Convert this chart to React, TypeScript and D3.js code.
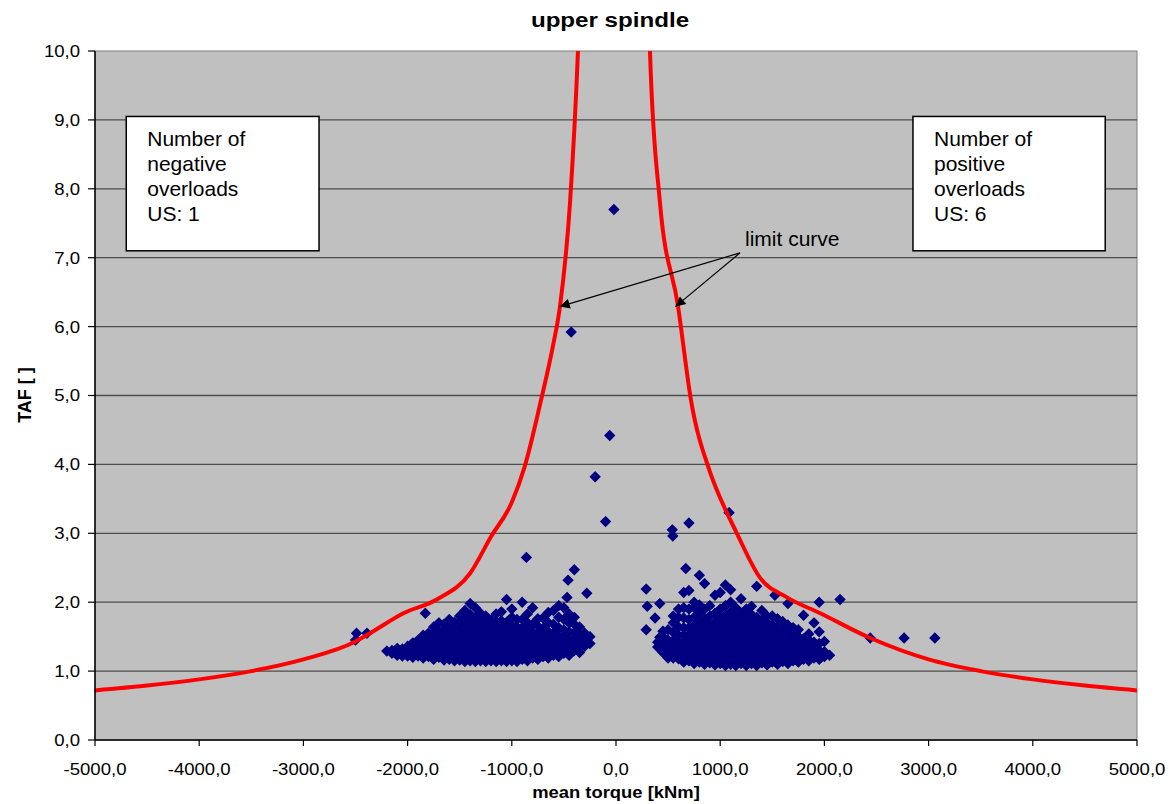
import * as d3 from 'd3';
import React from 'react';

// axis ticks
const xTicks = [-5000, -4000, -3000, -2000, -1000, 0, 1000, 2000, 3000, 4000, 5000];
const yTicks = [0, 1, 2, 3, 4, 5, 6, 7, 8, 9, 10];

// limit curve (mean torque kNm, TAF)
const limitLeft: [number, number][] = [
  [-5000, 0.72], [-4500, 0.79], [-4000, 0.88], [-3500, 1.0], [-3000, 1.17],
  [-2500, 1.43], [-2360, 1.55], [-2040, 1.84], [-1720, 2.04], [-1400, 2.42],
  [-1200, 2.95], [-1000, 3.45], [-880, 3.95], [-720, 4.93], [-605, 5.72],
  [-537, 6.3], [-440, 7.83], [-365, 10.0], [-345, 10.8],
];
const limitRight: [number, number][] = [
  [310, 10.8], [326, 10.0], [420, 7.83], [595, 6.3], [720, 4.93],
  [900, 3.9], [970, 3.62], [1160, 3.0], [1380, 2.36], [1640, 2.07],
  [1960, 1.84], [2440, 1.48], [3000, 1.17], [3500, 1.0], [4000, 0.88],
  [4500, 0.79], [5000, 0.72],
];

// measured points, grouped by torque column: [torque, TAF values]
const negCluster: [number, number[]][] = [
  [-2200, [1.29]],
  [-2150, [1.26, 1.3]],
  [-2100, [1.23, 1.28, 1.33]],
  [-2050, [1.22, 1.27, 1.32]],
  [-2000, [1.22, 1.29, 1.36, 1.26]],
  [-1950, [1.2, 1.25, 1.33, 1.41]],
  [-1900, [1.22, 1.28, 1.35, 1.45, 1.3]],
  [-1850, [1.19, 1.24, 1.3, 1.37, 1.44, 1.52]],
  [-1800, [1.21, 1.26, 1.32, 1.38, 1.46, 1.55]],
  [-1750, [1.17, 1.22, 1.28, 1.34, 1.41, 1.48, 1.56, 1.64]],
  [-1700, [1.2, 1.24, 1.3, 1.36, 1.42, 1.5, 1.58, 1.7]],
  [-1650, [1.16, 1.2, 1.26, 1.32, 1.38, 1.45, 1.52, 1.6, 1.68]],
  [-1600, [1.17, 1.22, 1.28, 1.34, 1.4, 1.47, 1.55, 1.66, 1.75]],
  [-1550, [1.15, 1.19, 1.25, 1.31, 1.37, 1.44, 1.51, 1.62, 1.71]],
  [-1500, [1.16, 1.21, 1.27, 1.33, 1.39, 1.46, 1.53, 1.62, 1.72, 1.8]],
  [-1450, [1.14, 1.18, 1.24, 1.3, 1.36, 1.43, 1.5, 1.58, 1.68, 1.78, 1.88]],
  [-1400, [1.15, 1.2, 1.26, 1.32, 1.38, 1.45, 1.52, 1.6, 1.7, 1.82, 1.98]],
  [-1350, [1.14, 1.18, 1.23, 1.29, 1.36, 1.43, 1.5, 1.58, 1.67, 1.78, 1.92]],
  [-1300, [1.15, 1.2, 1.26, 1.33, 1.39, 1.46, 1.54, 1.62, 1.72, 1.84]],
  [-1250, [1.14, 1.18, 1.23, 1.3, 1.37, 1.44, 1.51, 1.6, 1.7, 1.8]],
  [-1200, [1.15, 1.21, 1.27, 1.33, 1.4, 1.47, 1.55, 1.64, 1.74]],
  [-1150, [1.14, 1.18, 1.24, 1.3, 1.37, 1.44, 1.52, 1.61, 1.71, 1.83]],
  [-1100, [1.15, 1.2, 1.26, 1.32, 1.39, 1.46, 1.54, 1.63, 1.73, 1.86]],
  [-1050, [1.14, 1.18, 1.24, 1.3, 1.37, 1.44, 1.52, 1.61, 1.71, 2.04]],
  [-1000, [1.15, 1.21, 1.27, 1.33, 1.4, 1.48, 1.56, 1.66, 1.78, 1.9]],
  [-950, [1.14, 1.18, 1.24, 1.31, 1.38, 1.46, 1.55, 1.64, 1.75]],
  [-900, [1.17, 1.23, 1.3, 1.37, 1.45, 1.53, 1.63, 1.75, 2.0]],
  [-850, [1.15, 1.2, 1.27, 1.34, 1.42, 1.5, 1.6, 1.7, 1.83]],
  [-800, [1.19, 1.25, 1.32, 1.39, 1.47, 1.56, 1.68, 1.92]],
  [-750, [1.17, 1.22, 1.29, 1.36, 1.44, 1.54, 1.65, 1.76]],
  [-700, [1.21, 1.27, 1.34, 1.42, 1.51, 1.62, 1.77]],
  [-650, [1.19, 1.24, 1.31, 1.38, 1.47, 1.57, 1.7, 1.85]],
  [-600, [1.23, 1.3, 1.37, 1.45, 1.55, 1.68, 1.88]],
  [-550, [1.21, 1.27, 1.34, 1.41, 1.51, 1.63, 1.78, 1.95]],
  [-500, [1.26, 1.33, 1.4, 1.49, 1.6, 1.75, 1.92]],
  [-450, [1.23, 1.3, 1.38, 1.47, 1.57, 1.7, 1.83]],
  [-400, [1.3, 1.37, 1.46, 1.56, 1.68, 1.78]],
  [-350, [1.27, 1.35, 1.43, 1.53, 1.64]],
  [-300, [1.36, 1.45, 1.55]],
  [-250, [1.4, 1.5]],
];
const posCluster: [number, number[]][] = [
  [400, [1.35, 1.42]],
  [450, [1.27, 1.34, 1.42, 1.5, 1.58]],
  [500, [1.19, 1.28, 1.36, 1.45, 1.6]],
  [550, [1.19, 1.26, 1.34, 1.44, 1.56, 1.7, 1.8]],
  [600, [1.18, 1.25, 1.33, 1.42, 1.52, 1.64, 1.78, 1.9]],
  [650, [1.13, 1.19, 1.26, 1.34, 1.42, 1.52, 1.63, 1.77, 1.92, 2.14]],
  [700, [1.15, 1.21, 1.28, 1.36, 1.44, 1.53, 1.63, 1.75, 1.9, 2.17]],
  [750, [1.11, 1.17, 1.23, 1.3, 1.38, 1.46, 1.55, 1.66, 1.78, 1.92, 2.0]],
  [800, [1.13, 1.19, 1.26, 1.33, 1.41, 1.5, 1.6, 1.71, 1.84, 1.96, 2.39]],
  [850, [1.1, 1.15, 1.21, 1.28, 1.36, 1.44, 1.54, 1.64, 1.76, 1.9, 2.27]],
  [900, [1.12, 1.18, 1.24, 1.31, 1.39, 1.47, 1.57, 1.68, 1.8, 1.95]],
  [950, [1.09, 1.14, 1.2, 1.27, 1.34, 1.42, 1.5, 1.6, 1.71, 1.84, 2.1]],
  [1000, [1.11, 1.17, 1.23, 1.3, 1.38, 1.46, 1.55, 1.65, 1.77, 1.9, 2.14]],
  [1050, [1.08, 1.13, 1.19, 1.26, 1.33, 1.41, 1.49, 1.59, 1.69, 1.81, 1.95, 2.25]],
  [1100, [1.1, 1.16, 1.22, 1.29, 1.36, 1.44, 1.53, 1.63, 1.74, 1.86, 2.0, 2.18]],
  [1150, [1.08, 1.13, 1.19, 1.25, 1.32, 1.4, 1.48, 1.57, 1.67, 1.79, 1.92]],
  [1200, [1.11, 1.17, 1.23, 1.3, 1.37, 1.45, 1.53, 1.62, 1.72, 1.84, 2.05]],
  [1250, [1.08, 1.13, 1.19, 1.25, 1.32, 1.4, 1.48, 1.56, 1.66, 1.77, 1.9]],
  [1300, [1.11, 1.17, 1.23, 1.3, 1.37, 1.44, 1.52, 1.61, 1.71, 1.82, 1.94]],
  [1350, [1.08, 1.14, 1.2, 1.26, 1.33, 1.41, 1.49, 1.57, 1.67, 1.78, 2.23]],
  [1400, [1.12, 1.18, 1.24, 1.31, 1.38, 1.46, 1.54, 1.63, 1.73, 1.88]],
  [1450, [1.09, 1.15, 1.21, 1.28, 1.35, 1.43, 1.51, 1.6, 1.7, 1.8]],
  [1500, [1.13, 1.19, 1.25, 1.32, 1.4, 1.48, 1.57, 1.67, 1.8]],
  [1550, [1.1, 1.16, 1.22, 1.29, 1.37, 1.45, 1.54, 1.64, 1.76]],
  [1600, [1.14, 1.2, 1.27, 1.34, 1.42, 1.5, 1.6, 1.72]],
  [1650, [1.11, 1.17, 1.23, 1.31, 1.39, 1.48, 1.57, 1.67, 1.98]],
  [1700, [1.15, 1.21, 1.28, 1.36, 1.44, 1.53, 1.63]],
  [1750, [1.13, 1.19, 1.25, 1.33, 1.41, 1.5, 1.6]],
  [1800, [1.17, 1.23, 1.3, 1.38, 1.47, 1.81]],
  [1850, [1.15, 1.21, 1.28, 1.36, 1.45, 1.54]],
  [1900, [1.19, 1.25, 1.33, 1.42, 1.7]],
  [1950, [1.17, 1.23, 1.3, 1.4, 1.57, 2.0]],
  [2000, [1.21, 1.28, 1.43]],
  [2050, [1.23]],
];
const negOutliers: [number, number][] = [
  [-20, 7.7], [-430, 5.92], [-60, 4.42], [-200, 3.82], [-100, 3.17],
  [-860, 2.65], [-400, 2.47], [-460, 2.32], [-280, 2.13], [-470, 2.07],
  [-2490, 1.55], [-2500, 1.45], [-2390, 1.55], [-1830, 1.84],
];
const posOutliers: [number, number][] = [
  [540, 3.05], [545, 2.96], [700, 3.15], [1085, 3.3], [670, 2.49],
  [290, 2.19], [420, 1.98], [300, 1.94], [375, 1.77], [290, 1.6], [420, 1.49],
  [1525, 2.1], [2150, 2.04], [2440, 1.48], [2765, 1.48], [3060, 1.48],
];

const boxes = [
  { x0: -4700, x1: -2850, lines: ['Number of', 'negative', 'overloads', 'US: 1'] },
  { x0: 2850, x1: 4695, lines: ['Number of', 'positive', 'overloads', 'US: 6'] },
];

const W = 1170;
const H = 804;
const margin = { top: 51, right: 33, bottom: 64, left: 95 };
const font = "'Liberation Sans', Arial, sans-serif";

const fmt = (v: number) => d3.format('.1f')(v).replace('.', ',').replace('−', '-');

export default function App() {
  const x = d3.scaleLinear().domain([-5000, 5000]).range([margin.left, W - margin.right]);
  const y = d3.scaleLinear().domain([0, 10]).range([H - margin.bottom, margin.top]);

  const points: [number, number][] = [
    ...negCluster.flatMap(([t, vs]) => vs.map((v) => [t, v] as [number, number])),
    ...posCluster.flatMap(([t, vs]) => vs.map((v) => [t, v] as [number, number])),
    ...negOutliers,
    ...posOutliers,
  ];

  const diamond = d3.symbol().type(d3.symbolDiamond2).size(60)() as string;
  const line = d3
    .line<[number, number]>()
    .x((d) => x(d[0]))
    .y((d) => y(d[1]))
    .curve(d3.curveMonotoneX);

  const [x0, x1] = x.range();
  const [yb, yt] = y.range();

  // annotation arrows
  const arrowFrom: [number, number] = [1190, 7.07];
  const arrowTo: [number, number][] = [[-540, 6.29], [570, 6.29]];

  return (
    <svg width={W} height={H} style={{ position: 'absolute', left: 0, top: 0, background: '#fff' }} fontFamily={font}>
      <defs>
        <clipPath id="plot">
          <rect x={x0} y={yt} width={x1 - x0} height={yb - yt} />
        </clipPath>
        <marker id="arrow" viewBox="0 0 10 10" refX="10" refY="5" markerWidth="12" markerHeight="10" markerUnits="userSpaceOnUse" orient="auto">
          <path d="M0,0 L10,5 L0,10 z" fill="#000" />
        </marker>
      </defs>

      <text x={610} y={27} textAnchor="middle" fontWeight="bold" fontSize={21} transform="translate(610,0) scale(1.15,1) translate(-610,0)">
        upper spindle
      </text>

      <rect x={x0} y={yt} width={x1 - x0} height={yb - yt} fill="#c0c0c0" stroke="#808080" strokeWidth={1} />

      {yTicks.slice(1, -1).map((t) => (
        <line key={t} x1={x0} x2={x1} y1={y(t)} y2={y(t)} stroke="#4d4d4d" strokeWidth={1.3} />
      ))}

      <g clipPath="url(#plot)">
        {points.map((p, i) => (
          <path key={i} d={diamond} transform={`translate(${x(p[0])},${y(p[1])})`} fill="#000080" stroke="#000080" strokeWidth={1.2} strokeLinejoin="miter" />
        ))}
        <path d={line(limitLeft) as string} fill="none" stroke="#ff0000" strokeWidth={4} />
        <path d={line(limitRight) as string} fill="none" stroke="#ff0000" strokeWidth={4} />
      </g>

      {boxes.map((b, i) => (
        <g key={i}>
          <rect x={x(b.x0)} y={y(9.05)} width={x(b.x1) - x(b.x0)} height={y(7.1) - y(9.05)} fill="#fff" stroke="#000" strokeWidth={1.5} />
          {b.lines.map((l, j) => (
            <text key={j} x={x(b.x0) + 21} y={y(9.05) + 30 + j * 24.7} fontSize={21}>
              {l}
            </text>
          ))}
        </g>
      ))}

      <text x={745} y={246} fontSize={21}>limit curve</text>
      {arrowTo.map((a, i) => (
        <line key={i} x1={x(arrowFrom[0])} y1={y(arrowFrom[1])} x2={x(a[0])} y2={y(a[1])} stroke="#000" strokeWidth={1.2} markerEnd="url(#arrow)" />
      ))}

      {/* axes */}
      <line x1={x0} x2={x0} y1={yt} y2={yb} stroke="#000" strokeWidth={1.5} />
      <line x1={x0} x2={x1} y1={yb} y2={yb} stroke="#000" strokeWidth={1.5} />
      {yTicks.map((t) => (
        <g key={t}>
          <line x1={x0 - 7} x2={x0} y1={y(t)} y2={y(t)} stroke="#000" strokeWidth={1.2} />
          <text x={80} y={y(t) + 6} textAnchor="end" fontSize={16} transform={`translate(80,0) scale(1.16,1) translate(-80,0)`}>
            {fmt(t)}
          </text>
        </g>
      ))}
      {xTicks.map((t) => (
        <g key={t}>
          <line x1={x(t)} x2={x(t)} y1={yb} y2={yb + 6} stroke="#000" strokeWidth={1.2} />
          <text x={x(t)} y={775} textAnchor="middle" fontSize={16} transform={`translate(${x(t)},0) scale(1.16,1) translate(${-x(t)},0)`}>
            {fmt(t)}
          </text>
        </g>
      ))}

      <text x={616} y={798} textAnchor="middle" fontWeight="bold" fontSize={16} transform="translate(616,0) scale(1.15,1) translate(-616,0)">
        mean torque [kNm]
      </text>
      <text transform="translate(31,395) rotate(-90)" textAnchor="middle" fontWeight="bold" fontSize={18}>
        TAF [ ]
      </text>
    </svg>
  );
}
